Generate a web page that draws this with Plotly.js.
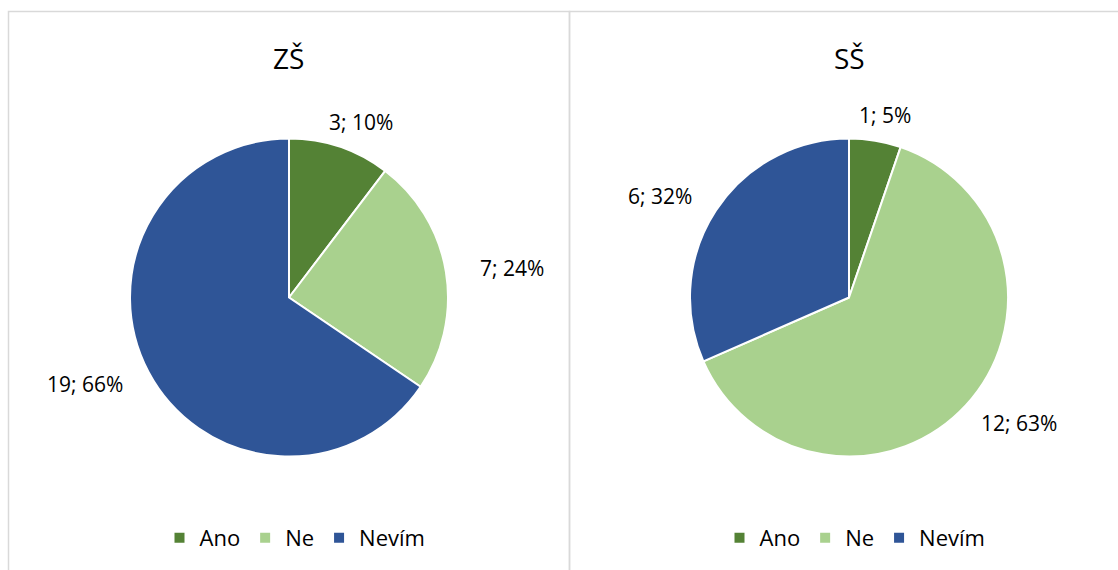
<!DOCTYPE html>
<html>
<head>
<meta charset="utf-8">
<script src="https://cdn.plot.ly/plotly-3.0.1.min.js"></script>
<style>html,body{margin:0;padding:0;background:#fff;}#chart{width:1118px;height:570px;}</style>
</head>
<body>
<div id="chart"></div>
<script>
// ---- data ----
const categories = ["Ano", "Ne", "Nevím"];
const zsValues = [3, 7, 19];
const ssValues = [1, 12, 6];
const chartTitles = ["ZŠ", "SŠ"];
const colors = ["#548235", "#A9D18E", "#2F5597"];

// ---- layout constants ----
const W = 1118, H = 570;
const FONT = "Open Sans, Noto Sans, sans-serif";
const R = 159;
const centers = [[289, 297.5], [849, 297.5]];

function pieTrace(values, idx) {
  const c = centers[idx];
  return {
    type: "pie",
    labels: categories,
    values: values,
    sort: false,
    direction: "clockwise",
    rotation: 0,
    textinfo: "none",
    hoverinfo: "label+value+percent",
    marker: { colors: colors, line: { color: "#ffffff", width: 2 } },
    domain: { x: [(c[0] - R) / W, (c[0] + R) / W], y: [1 - (c[1] + R) / H, 1 - (c[1] - R) / H] },
    showlegend: false
  };
}

// legend entries (one set per chart)
function legendTraces(idx) {
  return categories.map((cat, i) => ({
    type: "scatter", mode: "markers",
    x: [null], y: [null],
    name: cat,
    marker: { symbol: "square", size: 10, color: colors[i] },
    legend: idx === 0 ? "legend" : "legend2",
    showlegend: true,
    hoverinfo: "skip"
  }));
}

function labelAnnotations(values, idx) {
  const c = centers[idx];
  const total = values.reduce((a, b) => a + b, 0);
  let cum = 0;
  const out = [];
  values.forEach(v => {
    const mid = (cum + v / 2) / total * 2 * Math.PI;
    cum += v;
    const text = v + "; " + Math.round(v / total * 100) + "%";
    const rx = R + 38, ry = R + 16;
    const px = c[0] + rx * Math.sin(mid);
    const py = c[1] - ry * Math.cos(mid);
    const w = text.length * 9.6;
    out.push({
      xref: "paper", yref: "paper",
      x: px / W, y: 1 - py / H,
      xanchor: "center", yanchor: "middle",
      xshift: Math.sin(mid) * w / 2,
      yshift: Math.cos(mid) * 10,
      text: text, showarrow: false,
      font: { family: FONT, size: 21, color: "#000000" }
    });
  });
  return out;
}

const annotations = [];
chartTitles.forEach((t, i) => {
  annotations.push({
    xref: "paper", yref: "paper",
    x: centers[i][0] / W, y: 1 - 58 / H,
    xanchor: "center", yanchor: "middle",
    text: t, showarrow: false,
    font: { family: FONT, size: 28, color: "#000000" }
  });
});
annotations.push(...labelAnnotations(zsValues, 0));
annotations.push(...labelAnnotations(ssValues, 1));

const borderColor = "#D9D9D9";
const shapes = [
  { type: "rect", xref: "paper", yref: "paper", x0: 8.5 / W, x1: 569.5 / W, y0: -0.1, y1: 1 - 11.5 / H,
    line: { color: borderColor, width: 1.5 }, fillcolor: "rgba(0,0,0,0)" },
  { type: "rect", xref: "paper", yref: "paper", x0: 569.5 / W, x1: 1.1, y0: -0.1, y1: 1 - 11.5 / H,
    line: { color: borderColor, width: 1.5 }, fillcolor: "rgba(0,0,0,0)" }
];

const legendBase = {
  orientation: "h",
  yanchor: "middle", xanchor: "center",
  y: 1 - 538 / H,
  font: { family: FONT, size: 22, color: "#000000" },
  bgcolor: "rgba(0,0,0,0)",
  itemclick: false, itemdoubleclick: false,
  tracegroupgap: 0
};

const layout = {
  width: W, height: H,
  margin: { l: 0, r: 0, t: 0, b: 0 },
  paper_bgcolor: "#ffffff",
  plot_bgcolor: "rgba(0,0,0,0)",
  font: { family: FONT },
  showlegend: true,
  xaxis: { visible: false, domain: [0, 0.01] },
  yaxis: { visible: false, domain: [0, 0.01] },
  legend: Object.assign({}, legendBase, { x: 295 / W }),
  legend2: Object.assign({}, legendBase, { x: 855 / W }),
  annotations: annotations,
  shapes: shapes
};

const traces = [pieTrace(zsValues, 0), pieTrace(ssValues, 1)]
  .concat(legendTraces(0), legendTraces(1));

Plotly.newPlot("chart", traces, layout, { displayModeBar: false, staticPlot: true });
</script>
</body>
</html>
